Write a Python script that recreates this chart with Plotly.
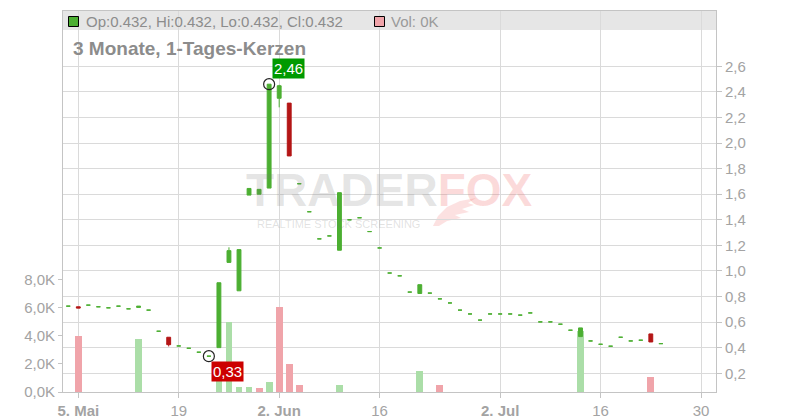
import plotly.graph_objects as go

# ---------------- data ----------------
dates = [
    "2025-05-02", "2025-05-05", "2025-05-06", "2025-05-07", "2025-05-08", "2025-05-09",
    "2025-05-12", "2025-05-13", "2025-05-14", "2025-05-15", "2025-05-16",
    "2025-05-19", "2025-05-20", "2025-05-21", "2025-05-22", "2025-05-23",
    "2025-05-26", "2025-05-27", "2025-05-28", "2025-05-29", "2025-05-30",
    "2025-06-02", "2025-06-03", "2025-06-04", "2025-06-05", "2025-06-06",
    "2025-06-09", "2025-06-10", "2025-06-11", "2025-06-12", "2025-06-13",
    "2025-06-16", "2025-06-17", "2025-06-18", "2025-06-19", "2025-06-20",
    "2025-06-23", "2025-06-24", "2025-06-25", "2025-06-26", "2025-06-27",
    "2025-06-30", "2025-07-01", "2025-07-02", "2025-07-03", "2025-07-04",
    "2025-07-07", "2025-07-08", "2025-07-09", "2025-07-10", "2025-07-11",
    "2025-07-14", "2025-07-15", "2025-07-16", "2025-07-17", "2025-07-18",
    "2025-07-21", "2025-07-22", "2025-07-23", "2025-07-24",
]

opens = [
    0.725, 0.720, 0.733, 0.720, 0.712, 0.725,
    0.704, 0.715, 0.694, 0.529, 0.482,
    0.414, 0.396, 0.365, 0.334, 0.401,
    1.067, 0.845, 1.593, 1.600, 1.648,
    2.350, 2.312, 1.682, 1.463, 1.251,
    1.274, 1.162, 1.400, 1.416, 1.308,
    1.180, 0.984, 0.962, 0.835, 0.824,
    0.827, 0.782, 0.750, 0.694, 0.664,
    0.616, 0.664, 0.664, 0.664, 0.655,
    0.672, 0.602, 0.602, 0.584, 0.537,
    0.487, 0.453, 0.427, 0.412, 0.482,
    0.453, 0.459, 0.508, 0.432,
]
highs = [
    0.725, 0.720, 0.733, 0.720, 0.712, 0.725,
    0.704, 0.725, 0.694, 0.529, 0.482,
    0.414, 0.396, 0.365, 0.334, 0.908,
    1.185, 1.167, 1.645, 1.638, 2.460,
    2.455, 2.312, 1.682, 1.463, 1.251,
    1.274, 1.612, 1.400, 1.416, 1.308,
    1.180, 0.984, 0.962, 0.835, 0.893,
    0.827, 0.782, 0.750, 0.694, 0.664,
    0.616, 0.664, 0.664, 0.664, 0.655,
    0.672, 0.602, 0.602, 0.584, 0.537,
    0.555, 0.453, 0.427, 0.412, 0.482,
    0.453, 0.459, 0.508, 0.432,
]
lows = [
    0.725, 0.710, 0.733, 0.720, 0.712, 0.725,
    0.704, 0.715, 0.694, 0.529, 0.410,
    0.414, 0.396, 0.365, 0.334, 0.401,
    1.067, 0.845, 1.593, 1.600, 1.648,
    2.279, 1.899, 1.682, 1.463, 1.251,
    1.274, 1.162, 1.400, 1.416, 1.308,
    1.180, 0.984, 0.962, 0.835, 0.824,
    0.827, 0.782, 0.750, 0.694, 0.664,
    0.616, 0.664, 0.664, 0.664, 0.655,
    0.672, 0.602, 0.602, 0.584, 0.537,
    0.487, 0.453, 0.427, 0.412, 0.482,
    0.453, 0.459, 0.445, 0.432,
]
closes = [
    0.725, 0.710, 0.733, 0.720, 0.712, 0.725,
    0.704, 0.725, 0.694, 0.529, 0.424,
    0.414, 0.396, 0.365, 0.334, 0.908,
    1.159, 1.167, 1.645, 1.638, 2.460,
    2.448, 1.899, 1.682, 1.463, 1.251,
    1.274, 1.612, 1.400, 1.416, 1.308,
    1.180, 0.984, 0.962, 0.835, 0.893,
    0.827, 0.782, 0.750, 0.694, 0.664,
    0.616, 0.664, 0.664, 0.664, 0.655,
    0.672, 0.602, 0.602, 0.584, 0.537,
    0.555, 0.453, 0.427, 0.412, 0.482,
    0.453, 0.459, 0.445, 0.432,
]
volumes = [
    0, 4000, 0, 0, 0, 0,
    0, 3800, 0, 0, 0,
    0, 0, 0, 0, 1900,
    5000, 380, 380, 310, 730,
    6070, 2000, 520, 0, 0,
    0, 520, 0, 0, 0,
    0, 0, 0, 0, 1520,
    0, 520, 0, 0, 0,
    0, 0, 0, 0, 0,
    0, 0, 0, 0, 0,
    4370, 0, 0, 0, 0,
    0, 0, 1100, 0,
]

x_tickvals = ["2025-05-05", "2025-05-19", "2025-06-02", "2025-06-16",
              "2025-07-02", "2025-07-16", "2025-07-30"]
x_ticktext = ["<b>5. Mai</b>", "19", "<b>2. Jun</b>", "16", "<b>2. Jul</b>", "16", "30"]
price_tickvals = [0.2, 0.4, 0.6, 0.8, 1.0, 1.2, 1.4, 1.6, 1.8, 2.0, 2.2, 2.4, 2.6]
vol_tickvals = [0, 2000, 4000, 6000, 8000]
vol_ticktext = ["0,0K", "2,0K", "4,0K", "6,0K", "8,0K"]

title_text = "3 Monate, 1-Tages-Kerzen"

# ---------------- styling ----------------
FONT = "Liberation Sans, Arial, Helvetica, sans-serif"
GREEN = "#4caf32"
RED = "#b41616"
VOL_GREEN = "#abdea8"
VOL_RED = "#f0a4aa"
GRID = "#dadada"
AXIS = "#c4c4c4"
LABEL = "#a3a3a3"
HEAD = "#8c8c8c"

W, H = 800, 420
L, R, T, B = 63, 84, 11, 28
PW, PH = W - L - R, H - T - B


def px(xp):
    return (xp - L) / PW


def py(yp):
    return (H - B - yp) / PH


DAY_MS = 86400000

# volume bar colours: up vs previous close -> green, else pink
vol_colors = []
for i, c in enumerate(closes):
    prev = closes[i - 1] if i > 0 else c
    vol_colors.append(VOL_GREEN if c >= prev else VOL_RED)

# split candles: falling (red) vs rising / unchanged (green)
down_idx = [i for i in range(len(dates)) if closes[i] < opens[i]]
up_idx = [i for i in range(len(dates)) if closes[i] >= opens[i]]


def pick(arr, idx):
    return [arr[i] for i in idx]


fig = go.Figure()

# volume (left axis, drawn first / beneath)
fig.add_trace(go.Bar(
    x=dates, y=volumes, width=0.68 * DAY_MS,
    marker=dict(color=vol_colors, line=dict(width=0)),
    yaxis="y", hoverinfo="skip", showlegend=False,
))

for idx, col in ((up_idx, GREEN), (down_idx, RED)):
    fig.add_trace(go.Candlestick(
        x=pick(dates, idx), open=pick(opens, idx), high=pick(highs, idx),
        low=pick(lows, idx), close=pick(closes, idx),
        increasing=dict(line=dict(color=col, width=1), fillcolor=col),
        decreasing=dict(line=dict(color=col, width=1), fillcolor=col),
        whiskerwidth=0, yaxis="y2", hoverinfo="skip", showlegend=False,
    ))

# high / low markers
hi_i = max(range(len(highs)), key=lambda k: highs[k])
lo_i = min(range(len(lows)), key=lambda k: lows[k])
fig.add_trace(go.Scatter(
    x=[dates[hi_i], dates[lo_i]], y=[highs[hi_i], lows[lo_i]],
    mode="markers", yaxis="y2",
    marker=dict(symbol="circle-open", size=11, color="#222222", line=dict(width=1.2)),
    hoverinfo="skip", showlegend=False,
))


def fmt(v):
    return f"{v:.2f}".replace(".", ",")


annotations = [
    dict(x=dates[hi_i], y=highs[hi_i], xref="x", yref="y2", text=fmt(highs[hi_i]),
         showarrow=False, xanchor="left", yanchor="bottom", xshift=3, yshift=5,
         bgcolor="#009a00", borderpad=1, font=dict(family=FONT, size=15, color="white")),
    dict(x=dates[lo_i], y=lows[lo_i], xref="x", yref="y2", text=fmt(lows[lo_i]),
         showarrow=False, xanchor="left", yanchor="top", xshift=2, yshift=-5,
         bgcolor="#cc0000", borderpad=1, font=dict(family=FONT, size=15, color="white")),
    # watermark
    dict(x=px(390), y=py(190), xref="paper", yref="paper", showarrow=False,
         text="<b><span style='color:rgba(120,120,120,0.2)'>TRADER</span>"
              "<span style='color:rgba(240,90,90,0.22)'>FOX</span></b>",
         font=dict(family=FONT, size=46), xanchor="center", yanchor="middle"),
    dict(x=px(338), y=py(223.5), xref="paper", yref="paper", showarrow=False,
         text="REALTIME STOCK SCREENING",
         font=dict(family=FONT, size=11, color="rgba(120,120,120,0.22)"),
         xanchor="center", yanchor="middle"),
    # header legend
    dict(x=px(84), y=py(21.5), xref="paper", yref="paper", showarrow=False,
         text=f"Op:{opens[-1]}, Hi:{highs[-1]}, Lo:{lows[-1]}, Cl:{closes[-1]}",
         font=dict(family=FONT, size=15, color=HEAD), xanchor="left", yanchor="middle"),
    dict(x=px(389), y=py(21.5), xref="paper", yref="paper", showarrow=False,
         text=f"Vol: {volumes[-1] // 1000}K",
         font=dict(family=FONT, size=15, color="#9a9a9a"), xanchor="left", yanchor="middle"),
    # title
    dict(x=px(71), y=py(48), xref="paper", yref="paper", showarrow=False,
         text=f"<b>{title_text}</b>",
         font=dict(family=FONT, size=19, color=HEAD), xanchor="left", yanchor="middle"),
]

# fox tail (watermark decoration)
tail = [(433, 226), (438, 216), (447, 207), (460, 201), (476, 198), (468, 203),
        (474, 205), (462, 209), (469, 212), (455, 215), (461, 218), (447, 221), (439, 226)]
tail_path = "M " + " L ".join(f"{px(a):.4f},{py(b):.4f}" for a, b in tail) + " Z"

shapes = [
    dict(type="rect", xref="paper", yref="paper", x0=0, x1=1, y0=py(30), y1=1,
         fillcolor="#e6e6e6", line=dict(width=0), layer="below"),
    dict(type="path", xref="paper", yref="paper", path=tail_path,
         fillcolor="rgba(240,90,90,0.18)", line=dict(width=0), layer="below"),
    dict(type="rect", xref="paper", yref="paper",
         x0=px(68.5), x1=px(78.5), y0=py(26.5), y1=py(16.5),
         fillcolor=GREEN, line=dict(color="black", width=1)),
    dict(type="rect", xref="paper", yref="paper",
         x0=px(374.5), x1=px(384.5), y0=py(26.5), y1=py(16.5),
         fillcolor=VOL_RED, line=dict(color="black", width=1)),
]

fig.update_layout(
    template="none",
    width=W, height=H,
    margin=dict(l=L, r=R, t=T, b=B, pad=0, autoexpand=False),
    paper_bgcolor="white", plot_bgcolor="white",
    separators=",.",
    showlegend=False,
    bargap=0,
    boxgap=0.45,
    font=dict(family=FONT, size=15, color=LABEL),
    xaxis=dict(
        type="date", automargin=False,
        rangebreaks=[dict(bounds=["sat", "mon"])],
        range=["2025-05-01 11:27", "2025-07-31 11:46"],
        tickvals=x_tickvals, ticktext=x_ticktext,
        showgrid=True, gridcolor=GRID, gridwidth=1,
        showline=True, linecolor=AXIS, linewidth=1, mirror=True,
        ticks="outside", ticklen=5, tickcolor=AXIS,
        tickfont=dict(family=FONT, size=15, color=LABEL),
        rangeslider=dict(visible=False), fixedrange=True, zeroline=False,
    ),
    yaxis=dict(
        side="left", range=[0, 27150], automargin=False,
        tickvals=vol_tickvals, ticktext=vol_ticktext,
        showgrid=False, zeroline=False,
        showline=True, linecolor=AXIS, linewidth=1,
        ticks="outside", ticklen=4, tickcolor=AXIS,
        tickfont=dict(family=FONT, size=15, color=LABEL),
        fixedrange=True,
    ),
    yaxis2=dict(
        overlaying="y", side="right", range=[0.054, 3.032], automargin=False,
        tickvals=price_tickvals, tickformat=".1f",
        showgrid=True, gridcolor=GRID, gridwidth=1, zeroline=False,
        showline=True, linecolor=AXIS, linewidth=1,
        ticks="outside", ticklen=5, tickcolor=AXIS,
        tickfont=dict(family=FONT, size=15, color=LABEL),
        fixedrange=True,
    ),
    annotations=annotations,
    shapes=shapes,
)

fig.write_html(
    "out.html",
    config={"displayModeBar": False, "staticPlot": True},
    post_script="document.body.style.margin='0';document.body.style.padding='0';",
)
